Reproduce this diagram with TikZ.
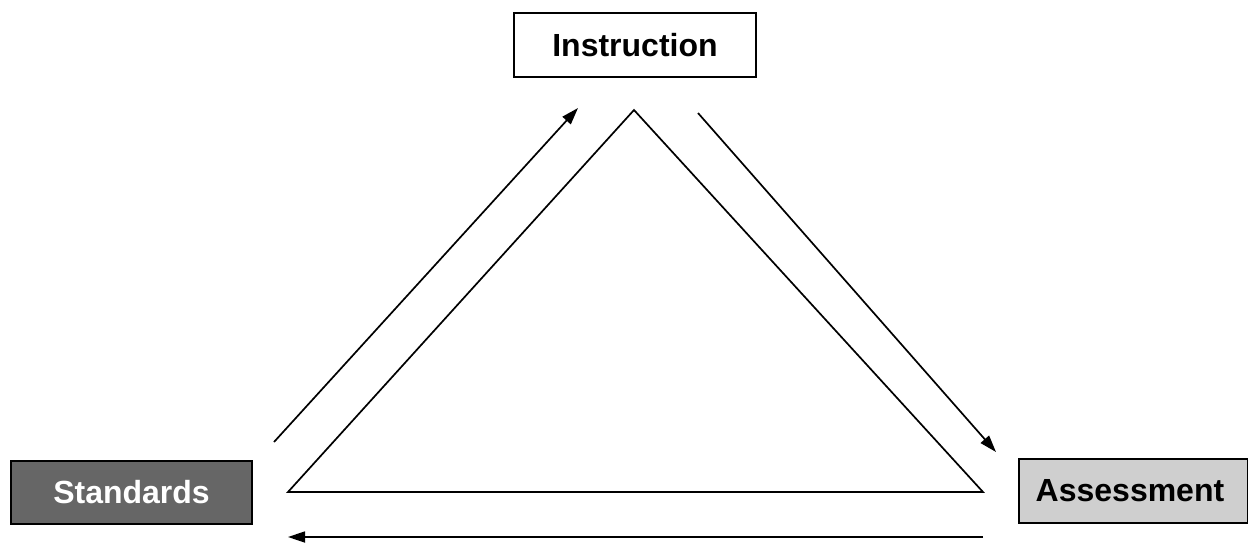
\documentclass[tikz,border=0pt]{standalone}
\usepackage{fontspec}
\setmainfont{Liberation Sans}
\usetikzlibrary{arrows.meta}
\begin{document}
\begin{tikzpicture}[x=1pt,y=-1pt,
  box/.style={draw=black,line width=1.9pt,inner sep=0pt,font=\fontsize{32}{36}\selectfont\bfseries},
  ln/.style={line width=1.7pt},
  arr/.style={ln,-{Triangle[length=17pt,width=11pt]}}]
\useasboundingbox (0,0) rectangle (1248,542);
\node[box,fill=white,minimum width=242pt,minimum height=64pt] (ins) at (635,45) {Instruction};
\node[box,fill=black!60,text=white,minimum width=241pt,minimum height=63pt] (std) at (131.5,492.5) {Standards};
\node[box,fill=black!19,minimum width=229pt,minimum height=64pt,anchor=west] (ass) at (1018,491) {};
\node[font=\fontsize{32}{36}\selectfont\bfseries] (asst) at (1130,491) {Assessment};
\coordinate (ta) at (634,110);
\coordinate (tl) at (288,492);
\coordinate (tr) at (983,492);
\draw[ln] (tl) -- (ta) -- (tr) -- cycle;
\coordinate (a1s) at (274,442);
\coordinate (a1e) at (578,108);
\coordinate (a2s) at (698,113);
\coordinate (a2e) at (996,452);
\coordinate (a3s) at (983,537);
\coordinate (a3e) at (288,537);
\draw[arr] (a1s) -- (a1e);
\draw[arr] (a2s) -- (a2e);
\draw[arr] (a3s) -- (a3e);
\end{tikzpicture}
\end{document}
